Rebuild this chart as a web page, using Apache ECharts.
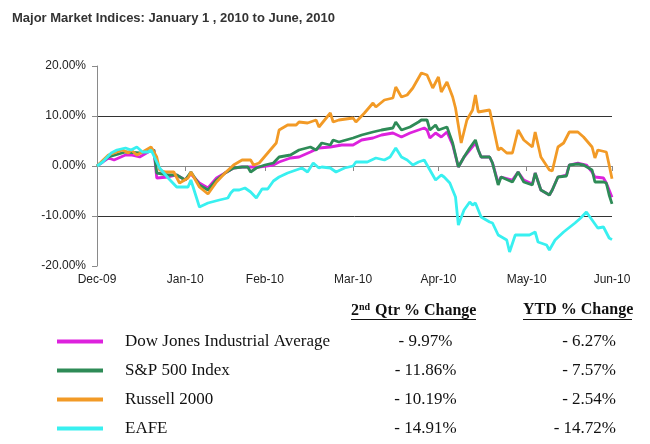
<!DOCTYPE html>
<html><head><meta charset="utf-8">
<script src="https://cdn.jsdelivr.net/npm/echarts@6/dist/echarts.min.js"></script>
<style>html,body{margin:0;padding:0;background:#fff}#c{width:650px;height:444px}</style>
</head><body><div id="c"></div>
<script>
const chartTitle = 'Major Market Indices: January 1 , 2010 to June, 2010';
const startDate = '2009-12-31';
const monthEnds = ['2009-12-31','2010-01-31','2010-02-28','2010-03-31','2010-04-30','2010-05-31','2010-06-30'];
const monthLabels = ['Dec-09','Jan-10','Feb-10','Mar-10','Apr-10','May-10','Jun-10'];
const yMin = -20, yMax = 20, yStep = 10;
const seriesNames = ['Dow Jones Industrial Average','S&P 500 Index','Russell 2000','EAFE'];
const seriesColors = ['#DD22DD','#2E8B57','#F29A26','#38F0F0'];
const qtrChange = ['- 9.97%','- 11.86%','- 10.19%','- 14.91%'];
const ytdChange = ['- 6.27%','- 7.57%','- 2.54%','- 14.72%'];
const headerQtr = ['2','nd',' Qtr % Change'];
const headerYtd = 'YTD % Change';

// [calendar days since 2009-12-31, % change]
const dow = [[0,0],[4,1.6],[6,1.2],[10,2.2],[12,2.2],[15,1.8],[18,2.8],[20,3.2],[21,-2.4],[25,-2.2],[28,-1.8],[31,-2.8],[33,-1.6],[36,-3.4],[39,-4.4],[42,-2.4],[45,-1.4],[48,-0.4],[51,-0.2],[54,-0.2],[57,-0.2],[62,0.2],[64,0.8],[68,1.6],[71,1.8],[75,2.8],[78,3.6],[82,3.8],[86,4.2],[90,4.2],[93,5.2],[97,5.6],[100,6.2],[104,6.6],[107,5.8],[110,6.6],[113,7.2],[115,7.6],[116,7.2],[117,5.6],[119,6.6],[121,5.8],[123,6.8],[125,4.2],[127,-0.2],[129,1.8],[131,3.2],[133,4.6],[134,3.2],[135,1.8],[138,1.8],[139,0.6],[141,-3.4],[142,-2.2],[146,-2.8],[148,-1.2],[150,-2.8],[153,-3.6],[154,-1.4],[156,-4.8],[159,-5.8],[160,-4.8],[162,-2.2],[165,-1.8],[166,0.2],[169,0.6],[172,0.2],[174,-1.2],[175,-2.2],[178,-2.4],[179,-3.4],[180,-4.8],[181,-6.27]];
const sp500 = [[0,0],[4,1.8],[10,2.8],[15,2.6],[20,3.2],[21,-1.4],[25,-1.8],[28,-1.8],[31,-2.8],[33,-1.2],[36,-3.8],[39,-4.8],[42,-2.8],[45,-1.4],[48,-0.4],[51,-0.2],[53,-0.2],[54,-1.2],[56,-0.4],[59,0.2],[62,0.6],[64,1.8],[68,2.2],[71,3.2],[75,3.8],[77,3.2],[79,4.6],[82,4.2],[83,5.2],[85,4.8],[90,5.6],[93,6.2],[97,6.8],[100,7.2],[104,7.6],[105,8.8],[107,7.2],[110,7.8],[113,8.8],[114,9.2],[116,9.2],[117,7.2],[119,8.2],[120,7.2],[123,7.8],[125,4.6],[127,-0.2],[129,1.8],[131,3.6],[133,5.2],[134,3.2],[135,1.8],[138,1.8],[139,0.6],[141,-3.8],[142,-2.2],[146,-3.2],[148,-1.2],[150,-3.2],[153,-3.8],[154,-1.4],[156,-4.8],[159,-5.8],[160,-4.8],[162,-2.2],[165,-2.0],[166,0.2],[169,0.4],[171,0.2],[174,-0.8],[175,-3.2],[178,-3.2],[179,-3.4],[180,-5.8],[181,-7.57]];
const russell = [[0,0],[4,2.2],[6,2.6],[9,3.2],[11,2.6],[12,3.2],[14,2.2],[16,2.8],[19,3.8],[21,1.8],[22,-0.8],[24,-1.2],[27,-1.2],[29,-3.4],[32,-2.4],[33,-1.2],[36,-4.2],[39,-5.6],[42,-3.2],[45,-1.4],[48,0.2],[51,1.2],[54,1.2],[55,0.2],[57,0.6],[60,2.6],[63,4.6],[64,7.2],[67,8.2],[70,8.2],[71,8.8],[74,8.6],[77,9.2],[78,7.8],[82,10.6],[83,8.8],[85,9.2],[90,9.6],[91,8.8],[94,10.6],[97,12.6],[98,11.8],[101,13.2],[104,13.6],[105,15.8],[107,13.8],[109,14.2],[111,15.6],[114,18.6],[116,18.2],[118,15.6],[120,17.8],[121,14.8],[123,16.8],[125,13.8],[126,11.6],[128,4.6],[130,9.2],[132,11.2],[133,14.2],[134,10.8],[138,11.2],[141,3.2],[142,3.6],[144,2.6],[146,2.6],[148,7.2],[150,5.2],[153,3.8],[154,6.8],[156,1.8],[159,-0.8],[160,-1.0],[162,3.8],[164,4.6],[166,6.8],[169,6.8],[171,5.8],[174,3.8],[175,1.6],[176,3.2],[179,2.8],[180,0.2],[181,-2.54]];
const eafe = [[0,0],[2,0.8],[5,2.6],[7,3.2],[10,3.6],[12,3.2],[14,3.8],[16,2.8],[18,2.8],[19,3.2],[22,-0.4],[25,-2.4],[28,-4.2],[32,-4.2],[33,-2.8],[36,-8.2],[39,-7.4],[43,-6.8],[46,-6.4],[47,-5.4],[48,-4.8],[50,-4.8],[52,-4.4],[54,-5.2],[56,-6.4],[58,-4.6],[60,-4.6],[62,-3.0],[64,-2.2],[67,-1.4],[70,-0.8],[72,-0.4],[74,-1.2],[76,0.6],[78,-0.4],[79,-0.2],[82,-0.4],[84,-1.2],[87,-0.4],[90,0],[91,0.8],[95,0.8],[98,1.6],[101,1.2],[103,1.8],[105,3.6],[107,1.8],[109,1.2],[111,0.2],[113,0.8],[115,1.2],[116,0.2],[119,-2.8],[121,-1.8],[122,-2.2],[124,-3.4],[126,-6.2],[127,-11.8],[129,-8.8],[131,-7.2],[132,-7.8],[133,-7.4],[135,-10.2],[138,-11.2],[139,-11.4],[141,-13.8],[144,-14.8],[145,-17.2],[147,-13.8],[152,-13.8],[154,-13.2],[155,-15.2],[158,-15.8],[159,-16.8],[161,-14.8],[164,-13.2],[168,-11.4],[170,-10.4],[172,-9.2],[174,-10.8],[176,-12.4],[178,-12.2],[180,-14.4],[181,-14.72]];
const seriesData = [dow, sp500, russell, eafe];

const DAY = 86400000;
const tickDays = monthEnds.map(d => Math.round((Date.parse(d) - Date.parse(startDate)) / DAY));
const serif = 'Liberation Serif';
const sans = 'Liberation Sans';

const chart = echarts.init(document.getElementById('c'), null, {renderer: 'canvas'});
chart.setOption({
  animation: false,
  backgroundColor: '#ffffff',
  title: {
    text: chartTitle, left: 7, top: 7,
    textStyle: {fontFamily: sans, fontSize: 13, fontWeight: 'bold', color: '#333333'}
  },
  grid: {left: 97, top: 66, width: 515, height: 200, containLabel: false},
  xAxis: {
    type: 'value', min: tickDays[0], max: tickDays[tickDays.length - 1],
    axisLine: {show: true, lineStyle: {color: '#8a8a8a', width: 1}},
    axisTick: {show: true, length: 5, customValues: tickDays, lineStyle: {color: '#8a8a8a'}},
    axisLabel: {
      customValues: tickDays, margin: 8,
      fontFamily: sans, fontSize: 12, color: '#222222',
      formatter: v => monthLabels[tickDays.indexOf(Math.round(v))] || ''
    },
    splitLine: {show: false}
  },
  yAxis: {
    type: 'value', min: yMin, max: yMax, interval: yStep,
    axisLine: {show: true, lineStyle: {color: '#8a8a8a', width: 1}},
    axisTick: {show: true, length: 5, lineStyle: {color: '#8a8a8a'}},
    axisLabel: {margin: 11, fontFamily: sans, fontSize: 12, color: '#222222',
      formatter: v => v.toFixed(2) + '%'},
    splitLine: {show: true, showMaxLine: false, showMinLine: false, lineStyle: {color: '#333333', width: 1}}
  },
  legend: {
    orient: 'vertical', left: 57, top: 331.5, height: 140, padding: 0,
    itemWidth: 46, itemHeight: 4, itemGap: 9,
    icon: 'rect', selectedMode: false,
    data: seriesNames,
    formatter: name => {
      const i = seriesNames.indexOf(name);
      return '{s| }{n|' + name + '}{q|' + qtrChange[i] + '}{y|' + ytdChange[i] + '}';
    },
    textStyle: {
      fontFamily: serif, fontSize: 17, color: '#111111', lineHeight: 20,
      rich: {
        s: {width: 17, fontSize: 17, fontFamily: serif},
        n: {width: 250, fontSize: 17, fontFamily: serif, color: '#111111'},
        q: {width: 101, align: 'center', fontSize: 17, fontFamily: serif, color: '#111111'},
        y: {width: 140, align: 'right', fontSize: 17, fontFamily: serif, color: '#111111'}
      }
    }
  },
  graphic: [
    {type: 'text', left: 351, top: 302, style: {
      text: '{a|' + headerQtr[0] + '}{b|' + headerQtr[1] + '}{a|' + headerQtr[2] + '}',
      rich: {
        a: {fontFamily: serif, fontSize: 16, fontWeight: 'bold', fill: '#111111', lineHeight: 18},
        b: {fontFamily: serif, fontSize: 10, fontWeight: 'bold', fill: '#111111', verticalAlign: 'top', lineHeight: 18, padding: [0, 1, 8, 0]}
      }
    }},
    {type: 'text', left: 523, top: 302, style: {
      text: headerYtd, font: 'bold 16px "Liberation Serif"', fill: '#111111'
    }},
    {type: 'line', shape: {x1: 351, y1: 319.5, x2: 476, y2: 319.5}, style: {stroke: '#111111', lineWidth: 1}},
    {type: 'line', shape: {x1: 523, y1: 319.5, x2: 632, y2: 319.5}, style: {stroke: '#111111', lineWidth: 1}}
  ],
  series: seriesNames.map((name, i) => ({
    name: name, type: 'line', data: seriesData[i],
    showSymbol: false, symbol: 'none', smooth: false,
    lineStyle: {color: seriesColors[i], width: 2.8},
    itemStyle: {color: seriesColors[i]},
    z: 2 + i
  }))
});
</script>
</body></html>
